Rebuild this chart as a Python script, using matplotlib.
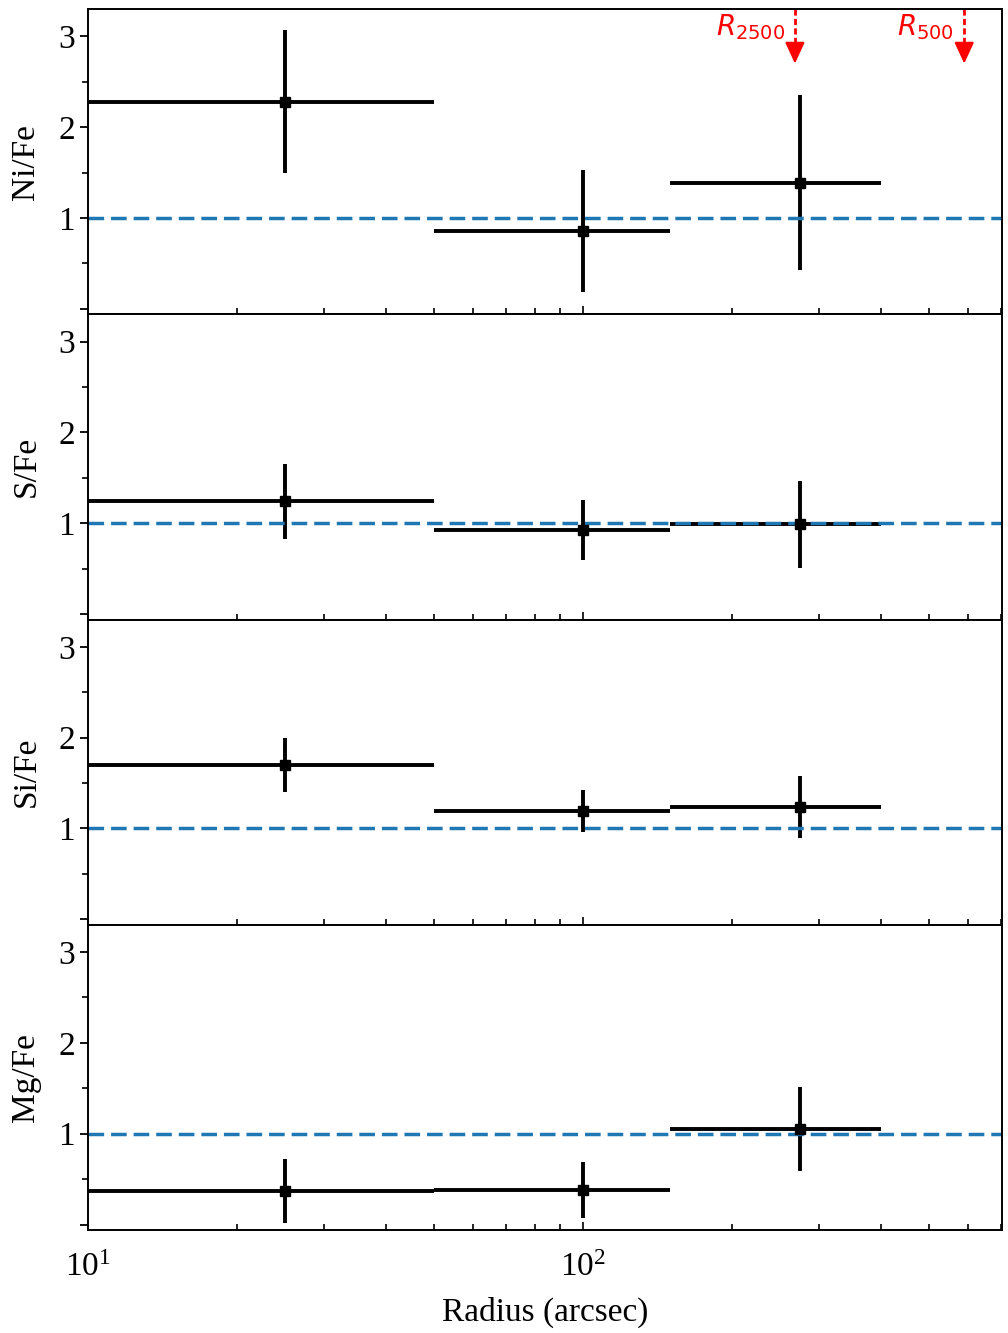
import matplotlib
matplotlib.use('Agg')
import matplotlib.pyplot as plt
import numpy as np

plt.rcParams['font.family'] = ['Liberation Serif', 'DejaVu Serif']
plt.rcParams['mathtext.fontset'] = 'dejavusans'

# Data (radius in arcsec, ratios)
radius = np.array([25, 100, 275])
radius_err = np.array([25, 50, 125])

ratios = ['Ni/Fe', 'S/Fe', 'Si/Fe', 'Mg/Fe']
values = {
    'Ni/Fe': [2.28, 0.86, 1.39],
    'S/Fe': [1.24, 0.93, 0.99],
    'Si/Fe': [1.70, 1.19, 1.24],
    'Mg/Fe': [0.37, 0.38, 1.05],
}
errors = {
    'Ni/Fe': [0.79, 0.67, 0.96],
    'S/Fe': [0.41, 0.33, 0.48],
    'Si/Fe': [0.30, 0.23, 0.34],
    'Mg/Fe': [0.35, 0.31, 0.46],
}

r_marks = [268, 589]
r_labels = [r'$R_{2500}$', r'$R_{500}$']

fig, axes = plt.subplots(4, 1, figsize=(10.08, 13.33), dpi=100, sharex=True)
fig.subplots_adjust(left=0.0873, right=0.994, top=0.9932, bottom=0.0773, hspace=0)

for ax, name in zip(axes, ratios):
    ax.errorbar(radius, values[name], xerr=radius_err, yerr=errors[name],
                fmt='s', color='black', markersize=7, elinewidth=2.8, capsize=0)
    ax.axhline(1, color='#1f77b4', ls='--', lw=2.5, dashes=(4.5, 2.0))
    ax.set_xscale('log')
    ax.set_xlim(10, 702)
    ax.set_ylim(-0.06, 3.3)
    ax.set_yticks([0, 1, 2, 3], ['', '1', '2', '3'])
    ax.set_yticks([0.5, 1.5, 2.5], minor=True)
    ax.set_ylabel(name, fontsize=24, labelpad=12)
    ax.tick_params(axis='y', which='major', length=6, width=1.3, labelsize=24)
    ax.tick_params(axis='y', which='minor', length=4, width=1.2)
    ax.tick_params(axis='x', which='both', direction='in', width=1.2, labelsize=24, pad=16)
    ax.tick_params(axis='x', which='major', length=6)
    ax.tick_params(axis='x', which='minor', length=4)
    for sp in ax.spines.values():
        sp.set_linewidth(1.4)

# R2500 / R500 markers in the top panel: dashed shaft + solid head
top = axes[0]
for xm, lab in zip(r_marks, r_labels):
    top.plot([xm, xm], [3.3, 2.86], color='red', lw=2.0, ls=(0, (2.2, 1.2)),
             clip_on=False)
    top.annotate('', xy=(xm, 2.7), xytext=(xm, 2.88),
                 arrowprops=dict(arrowstyle='-|>,head_width=0.6,head_length=1.3',
                                 color='red', lw=1.6, shrinkA=0, shrinkB=0),
                 annotation_clip=False)
    top.text(xm * 0.955, 3.1, lab, color='red', fontsize=20, ha='right', va='center')

axes[-1].set_xlabel('Radius (arcsec)', fontsize=24, labelpad=10)

fig.savefig('out.png', dpi=100)
